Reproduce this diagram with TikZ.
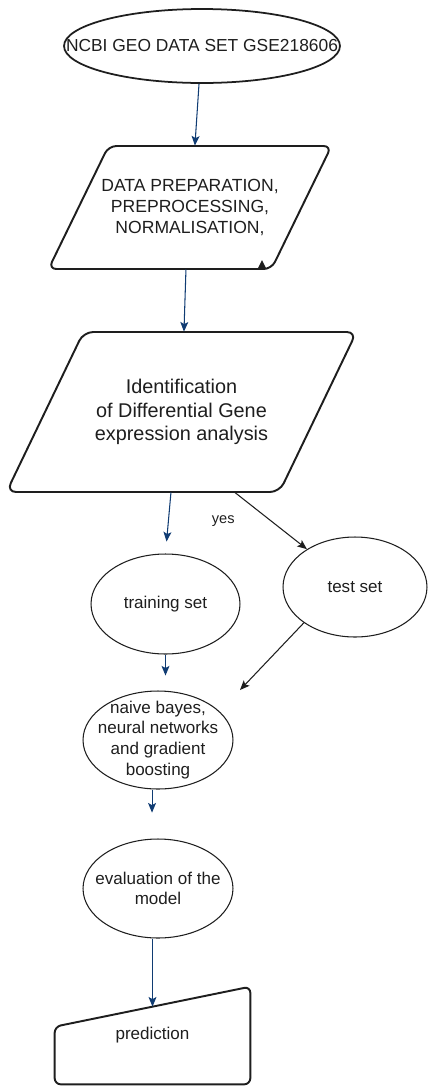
\documentclass[tikz,border=0pt]{standalone}
\usepackage{fontspec}
\setmainfont{Liberation Sans}
\usetikzlibrary{shapes.geometric, arrows.meta, positioning, calc}
\definecolor{flowblue}{RGB}{16,60,115}
\definecolor{ink}{RGB}{30,30,30}

\tikzset{
  oval/.style={draw=ink, ellipse, line width=0.6pt, inner sep=0pt},
  slanted/.style={align=center, inner sep=0pt, text=ink},
  frame/.style={draw=ink, line width=1.1pt, rounded corners=4.5pt},
  flow/.style={draw=flowblue, line width=0.6pt, -{Stealth[length=5.5pt,width=4.5pt,inset=1.2pt]}},
  plainarrow/.style={draw=ink, line width=0.6pt, -{Stealth[length=5.5pt,width=4.5pt,inset=1.2pt]}},
  txt/.style={font=\fontsize{9.7}{11.8}\selectfont, align=center, text=ink}
}

\begin{document}
\begin{tikzpicture}[x=0.02cm, y=-0.02cm]
    \useasboundingbox (0,0) rectangle (427,1086);

    % Data source
    \node[oval, line width=1pt, minimum width=5.52cm, minimum height=1.48cm,
      label={[txt, font=\fontsize{9.9}{12}\selectfont]center:NCBI GEO DATA SET GSE218606}] (geo) at (202,46) {};

    % Processing steps (parallelograms drawn round the text nodes)
    \node[slanted, minimum height=2.46cm, font=\fontsize{10}{11.9}\selectfont] (prep) at (190,207.5)
      {DATA PREPARATION,\\PREPROCESSING,\\NORMALISATION,};
    \draw[frame] ($(prep)+(-141.5,61.5)$) -- ($(prep)+(-81.5,-61.5)$)
      -- ($(prep)+(141.5,-61.5)$) -- ($(prep)+(81.5,61.5)$) -- cycle;

    \node[slanted, minimum height=3.2cm, font=\fontsize{11.3}{13.3}\selectfont] (ident) at (181.5,412)
      {Identification\\of Differential Gene\\expression analysis};
    \draw[frame, rounded corners=5.5pt] ($(ident)+(-175,80)$) -- ($(ident)+(-98,-80)$)
      -- ($(ident)+(175,-80)$) -- ($(ident)+(98,80)$) -- cycle;

    % Split and models
    \node[oval, minimum width=2.98cm, minimum height=2cm,
      label={[txt]center:training set}] (train) at (165.5,604) {};
    \node[oval, minimum width=2.88cm, minimum height=2cm,
      label={[txt]center:test set}] (test) at (355,587) {};
    \node[oval, minimum width=3cm, minimum height=1.96cm,
      label={[txt, font=\fontsize{9.7}{11.9}\selectfont]center:{naive bayes,\\neural networks\\and gradient\\boosting}}] (models) at (158,740) {};
    \node[oval, minimum width=3cm, minimum height=1.98cm,
      label={[txt]center:{evaluation of the\\model}}] (eval) at (158,888.5) {};

    % Output
    \node[txt, minimum width=3.9cm, minimum height=1.94cm, inner sep=0pt] (pred) at (152.5,1035.5) {prediction};
    \draw[frame, rounded corners=3.5pt] (pred.south west) -- ($(pred.north west)+(0,40)$)
      -- (pred.north east) -- (pred.south east) -- cycle;

    % Connectors
    \draw[flow] ([xshift=-1.7pt]geo.south) -- ([xshift=2.8pt]prep.north);
    \draw[flow] ([xshift=-2.3pt]prep.south) -- ([xshift=1.4pt]ident.north);
    \draw[flow, shorten >=6.8pt] ([xshift=-6pt]ident.south) -- (train.north);
    \draw[plainarrow] ([xshift=30.3pt]ident.south) -- node[txt, pos=0.5, left=17pt, font=\fontsize{8.3}{10}\selectfont] {yes} (test);
    \coordinate (merge) at (240,690);
    \draw[plainarrow] (test.215) -- (merge);
    \draw[flow, shorten >=8.5pt] (train.south) -- (train.south |- models.north);
    \draw[flow, shorten >=14.7pt] ([xshift=-3.4pt]models.south) -- ([xshift=-3.4pt]eval.north);
    \draw[flow] (eval.south -| pred.north) -- ($(pred.north)+(0,20)$);

    % small mark on the corner
    \fill[ink] (258,268) -- (262,260) -- (266,268) -- cycle;
\end{tikzpicture}
\end{document}
